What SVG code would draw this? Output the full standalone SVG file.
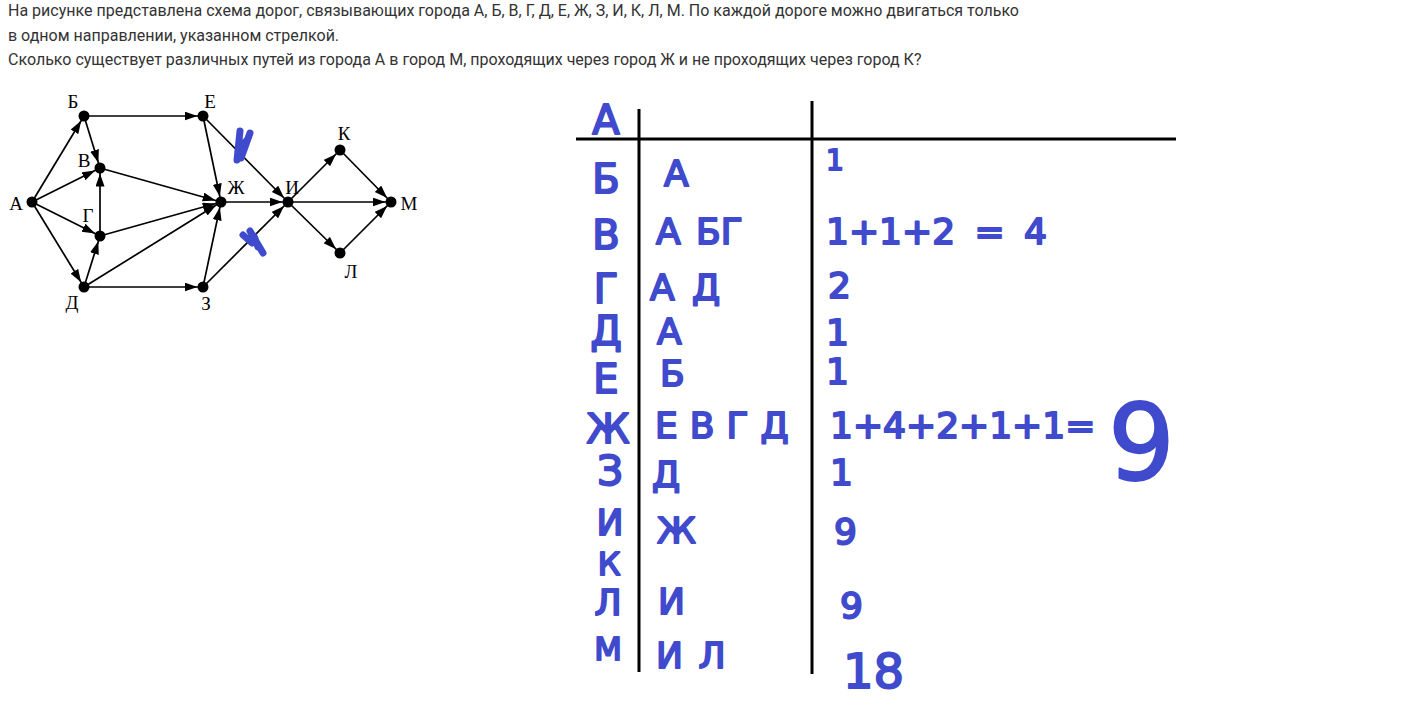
<svg xmlns="http://www.w3.org/2000/svg" width="1416" height="712" viewBox="0 0 1416 712">
<style>
.hdr{font-family:Roboto,"Liberation Sans",sans-serif;font-size:16px;fill:#333}
.lbl{font-family:"Liberation Serif","DejaVu Serif",serif;font-size:19px;fill:#000}
.edge{stroke:#000;stroke-width:1.7;fill:none;marker-end:url(#arr)}
.node{fill:#000}
.hw{font-family:"DejaVu Sans","Liberation Sans",sans-serif;fill:#3f4acd;stroke:#3f4acd;stroke-width:2;stroke-linejoin:round}
.tl{stroke:#000;stroke-width:3;fill:none}
.mark{stroke:#3f4acd;stroke-width:7;stroke-linecap:round;fill:none}
</style>
<defs>
<marker id="arr" markerUnits="userSpaceOnUse" markerWidth="20" markerHeight="10" refX="18.5" refY="4.5" orient="auto">
<path d="M0,0 L13,4.5 L0,9 z" fill="#000"/>
</marker>
</defs>
<rect width="1416" height="712" fill="#fff"/>
<g id="header">
<text class="hdr" x="8" y="16">На рисунке представлена схема дорог, связывающих города А, Б, В, Г, Д, Е, Ж, З, И, К, Л, М. По каждой дороге можно двигаться только</text>
<text class="hdr" x="8" y="41">в одном направлении, указанном стрелкой.</text>
<text class="hdr" x="8" y="65">Сколько существует различных путей из города А в город М, проходящих через город Ж и не проходящих через город К?</text>
</g>
<g id="connectors">
<line class="edge" x1="32" y1="202" x2="84" y2="116"/>
<line class="edge" x1="32" y1="202" x2="100" y2="168"/>
<line class="edge" x1="32" y1="202" x2="100" y2="236"/>
<line class="edge" x1="32" y1="202" x2="84" y2="287"/>
<line class="edge" x1="84" y1="116" x2="100" y2="168"/>
<line class="edge" x1="84" y1="116" x2="203" y2="116"/>
<line class="edge" x1="100" y1="168" x2="221" y2="202"/>
<line class="edge" x1="100" y1="236" x2="100" y2="168"/>
<line class="edge" x1="100" y1="236" x2="221" y2="202"/>
<line class="edge" x1="84" y1="287" x2="100" y2="236"/>
<line class="edge" x1="84" y1="287" x2="221" y2="202"/>
<line class="edge" x1="84" y1="287" x2="203" y2="287"/>
<line class="edge" x1="203" y1="116" x2="221" y2="202"/>
<line class="edge" x1="203" y1="116" x2="288" y2="202"/>
<line class="edge" x1="203" y1="287" x2="221" y2="202"/>
<line class="edge" x1="203" y1="287" x2="288" y2="202"/>
<line class="edge" x1="221" y1="202" x2="288" y2="202"/>
<line class="edge" x1="288" y1="202" x2="340" y2="150"/>
<line class="edge" x1="288" y1="202" x2="340" y2="253"/>
<line class="edge" x1="288" y1="202" x2="391" y2="202"/>
<line class="edge" x1="340" y1="150" x2="391" y2="202"/>
<line class="edge" x1="340" y1="253" x2="391" y2="202"/>
</g>
<g id="nA"><circle class="node" cx="32" cy="202" r="5.5"/><text class="lbl" x="16" y="210" text-anchor="middle">А</text></g>
<g id="nB"><circle class="node" cx="84" cy="116" r="5.5"/><text class="lbl" x="73" y="108" text-anchor="middle">Б</text></g>
<g id="nV"><circle class="node" cx="100" cy="168" r="5.5"/><text class="lbl" x="84" y="167" text-anchor="middle">В</text></g>
<g id="nG"><circle class="node" cx="100" cy="236" r="5.5"/><text class="lbl" x="88" y="222" text-anchor="middle">Г</text></g>
<g id="nD"><circle class="node" cx="84" cy="287" r="5.5"/><text class="lbl" x="72" y="309" text-anchor="middle">Д</text></g>
<g id="nE"><circle class="node" cx="203" cy="116" r="5.5"/><text class="lbl" x="210" y="108" text-anchor="middle">Е</text></g>
<g id="nZh"><circle class="node" cx="221" cy="202" r="5.5"/><text class="lbl" x="236" y="194" text-anchor="middle">Ж</text></g>
<g id="nZ"><circle class="node" cx="203" cy="287" r="5.5"/><text class="lbl" x="206" y="310" text-anchor="middle">З</text></g>
<g id="nI"><circle class="node" cx="288" cy="202" r="5.5"/><text class="lbl" x="292" y="194" text-anchor="middle">И</text></g>
<g id="nK"><circle class="node" cx="340" cy="150" r="5.5"/><text class="lbl" x="344" y="140" text-anchor="middle">К</text></g>
<g id="nL"><circle class="node" cx="340" cy="253" r="5.5"/><text class="lbl" x="351" y="278" text-anchor="middle">Л</text></g>
<g id="nM"><circle class="node" cx="391" cy="202" r="5.5"/><text class="lbl" x="409" y="210" text-anchor="middle">М</text></g>
<g id="marks">
<path class="mark" d="M237,160 L240,131 M241,158 L250,133 M239,150 L247,140"/>
<path class="mark" d="M243,235 L252,243 M250,231 L263,253 M254,236 L258,247"/>
</g>
<g id="table">
<line class="tl" x1="576" y1="139" x2="1176" y2="139"/>
<line class="tl" x1="639" y1="109" x2="639" y2="672"/>
<line class="tl" x1="812" y1="101" x2="812" y2="674"/>
</g>
<g id="col1" font-size="40">
<text class="hw" x="606" y="134" text-anchor="middle">А</text>
<text class="hw" x="606" y="193" text-anchor="middle">Б</text>
<text class="hw" x="606" y="249" text-anchor="middle">В</text>
<text class="hw" x="606" y="303" text-anchor="middle">Г</text>
<text class="hw" x="606" y="345" text-anchor="middle">Д</text>
<text class="hw" x="606" y="393" text-anchor="middle">Е</text>
<text class="hw" x="608" y="443" text-anchor="middle">Ж</text>
<text class="hw" x="610" y="485" text-anchor="middle">З</text>
<text class="hw" x="610" y="535" text-anchor="middle" font-size="36">И</text>
<text class="hw" x="609" y="575" text-anchor="middle" font-size="32">К</text>
<text class="hw" x="608" y="615" text-anchor="middle" font-size="36">Л</text>
<text class="hw" x="608" y="660" text-anchor="middle" font-size="32">М</text>
</g>
<g id="col2" font-size="36">
<text class="hw" x="664" y="186">А</text>
<text class="hw" x="656" y="244">А <tspan dx="4">БГ</tspan></text>
<text class="hw" x="650" y="300">А <tspan dx="6">Д</tspan></text>
<text class="hw" x="657" y="344">А</text>
<text class="hw" x="660" y="386">Б</text>
<text class="hw" x="655" y="438" letter-spacing="12">ЕВГД</text>
<text class="hw" x="652" y="487">Д</text>
<text class="hw" x="657" y="543">Ж</text>
<text class="hw" x="658" y="614">И</text>
<text class="hw" x="656" y="668">И <tspan dx="4">Л</tspan></text>
</g>
<g id="col3" font-size="36">
<text class="hw" x="826" y="170" font-size="28">1</text>
<text class="hw" x="826" y="244" word-spacing="8">1+1+2 = 4</text>
<text class="hw" x="828" y="298">2</text>
<text class="hw" x="826" y="345">1</text>
<text class="hw" x="826" y="384">1</text>
<text class="hw" x="830" y="438">1+4+2+1+1=</text>
<text class="hw" x="1108" y="480" font-size="105" stroke-width="4">9</text>
<text class="hw" x="830" y="485">1</text>
<text class="hw" x="834" y="544">9</text>
<text class="hw" x="840" y="618">9</text>
<text class="hw" x="843" y="688" font-size="48">18</text>
</g>
</svg>
